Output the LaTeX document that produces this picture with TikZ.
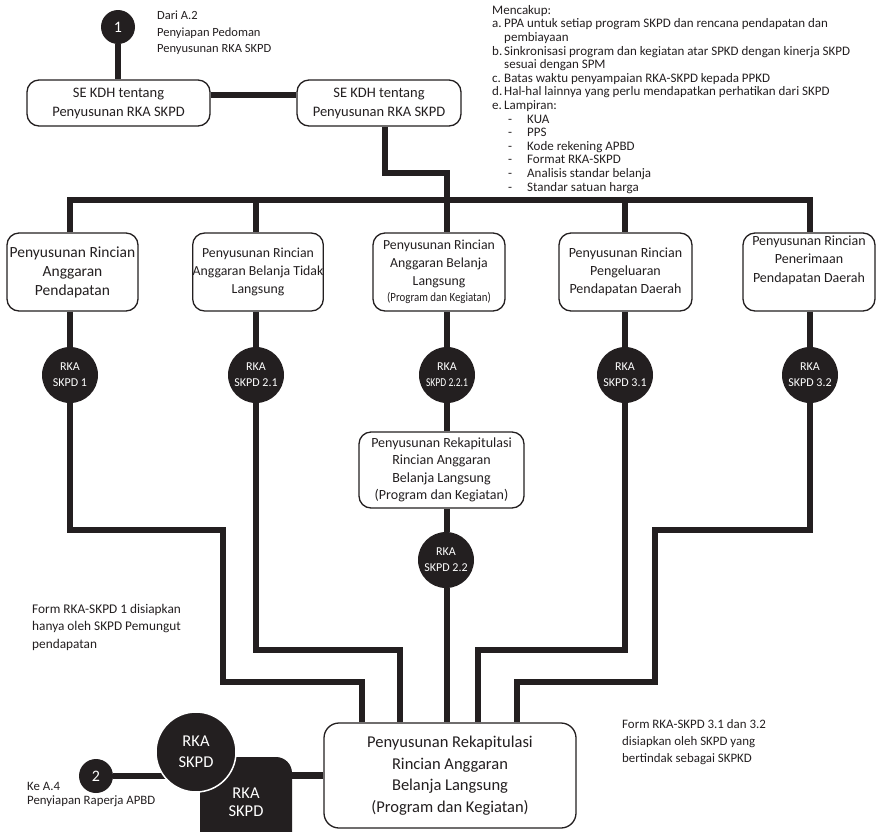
\documentclass[tikz,border=0pt]{standalone}
\usepackage{fontspec}
\setmainfont{Carlito}
\usetikzlibrary{backgrounds}
\definecolor{ink}{HTML}{231F20}
\newcommand{\lett}[1]{\makebox[12pt][l]{#1}}
\newcommand{\dashitem}[1]{\hspace*{16pt}\makebox[19pt][l]{-}#1}
\begin{document}
\begin{tikzpicture}[x=1pt,y=-1pt,
  conn/.style={draw=ink,line width=6.5pt,line join=miter},
  box/.style={draw=ink,line width=1.3pt,rounded corners=12pt,fill=white,
    align=center,text=ink,inner sep=0pt},
  dot/.style={circle,fill=ink,text=white,align=center,inner sep=0pt,
    minimum size=56pt,font=\fontsize{12}{16}\selectfont},
  numdot/.style={circle,fill=ink,text=white,inner sep=0pt,
    minimum size=34pt,font=\fontsize{16}{16}\selectfont},
  note/.style={align=left,text=ink,inner sep=0pt,anchor=north west},
]
\useasboundingbox (0,0) rectangle (876,831);

% --- top: start point and the two circular letters
\node[numdot] (c1) at (118,27) {1};
\node[note,font=\fontsize{12.5}{16.5}\selectfont] (dari) at (157,11)
  {Dari A.2\\Penyiapan Pedoman\\Penyusunan RKA SKPD};
\node[box,minimum width=183pt,minimum height=46pt,font=\fontsize{14.5}{19}\selectfont]
  (se1) at (118.5,103) {SE KDH tentang\\Penyusunan RKA SKPD};
\node[box,minimum width=164pt,minimum height=46pt,font=\fontsize{14.5}{19}\selectfont]
  (se2) at (379,103) {SE KDH tentang\\Penyusunan RKA SKPD};

\node[note,font=\fontsize{13}{13.6}\selectfont] (isi) at (492,5)
  {Mencakup:\\
   \lett{a.}PPA untuk setiap program SKPD dan rencana pendapatan dan\\
   \lett{}pembiayaan\\
   \lett{b.}Sinkronisasi program dan kegiatan atar SPKD dengan kinerja SKPD\\
   \lett{}sesuai dengan SPM\\
   \lett{c.}Batas waktu penyampaian RKA-SKPD kepada PPKD\\
   \lett{d.}Hal-hal lainnya yang perlu mendapatkan perhatikan dari SKPD\\
   \lett{e.}Lampiran:\\
   \dashitem{KUA}\\
   \dashitem{PPS}\\
   \dashitem{Kode rekening APBD}\\
   \dashitem{Format RKA-SKPD}\\
   \dashitem{Analisis standar belanja}\\
   \dashitem{Standar satuan harga}};

% --- row of the five detail boxes
\node[box,minimum width=131pt,minimum height=78pt,font=\fontsize{15.5}{19}\selectfont]
  (b1) at (72.5,272) {Penyusunan Rincian\\Anggaran\\Pendapatan};
\node[box,minimum width=130pt,minimum height=78pt,font=\fontsize{13.8}{18}\selectfont]
  (b2) at (258,272) {Penyusunan Rincian\\Anggaran Belanja Tidak\\Langsung};
\node[box,minimum width=132pt,minimum height=78pt,font=\fontsize{13.8}{18}\selectfont]
  (b3) at (439,272) {Penyusunan Rincian\\Anggaran Belanja\\Langsung\\[-2pt]
  {\fontsize{12.5}{13}\selectfont\scalebox{0.87}[1]{(Program dan Kegiatan)}}};
\node[box,minimum width=133pt,minimum height=78pt,font=\fontsize{14}{18}\selectfont]
  (b4) at (625.5,272) {Penyusunan Rincian\\Pengeluaran\\Pendapatan Daerah};
\node[box,minimum width=132pt,minimum height=78pt,font=\fontsize{14}{18.5}\selectfont]
  (b5) at (809,272) {Penyusunan Rincian\\Penerimaan\\Pendapatan Daerah\\[8pt]};

% --- RKA form circles
\node[dot] (r1) at (70,375) {RKA\\SKPD 1};
\node[dot] (r2) at (256,375) {RKA\\SKPD 2.1};
\node[dot] (r3) at (447,375) {RKA\\\scalebox{0.8}[1]{SKPD 2.2.1}};
\node[dot] (r4) at (625,375) {RKA\\SKPD 3.1};
\node[dot] (r5) at (810,375) {RKA\\SKPD 3.2};

\node[box,minimum width=165pt,minimum height=76pt,font=\fontsize{14}{17.5}\selectfont]
  (m) at (441.5,470) {Penyusunan Rekapitulasi\\Rincian Anggaran\\Belanja Langsung\\(Program dan Kegiatan)};
\node[dot] (r22) at (446,560) {RKA\\SKPD 2.2};

% --- final recap box
\node[box,rounded corners=15pt,minimum width=252pt,minimum height=105pt,
  font=\fontsize{16.5}{21.5}\selectfont]
  (fin) at (450,775.5) {Penyusunan Rekapitulasi\\Rincian Anggaran\\Belanja Langsung\\(Program dan Kegiatan)};

% --- notes
\node[note,font=\fontsize{13.3}{17.5}\selectfont] (n1) at (32,604)
  {Form RKA-SKPD 1 disiapkan\\hanya oleh SKPD Pemungut\\pendapatan};
\node[note,font=\fontsize{12.9}{17}\selectfont] (n2) at (622,719)
  {Form RKA-SKPD 3.1 dan 3.2\\disiapkan oleh SKPD yang\\bertindak sebagai SKPKD};
\node[note,font=\fontsize{12.8}{14.5}\selectfont] (n3) at (27,782)
  {Ke A.4\\Penyiapan Raperja APBD};

% --- output: RKA SKPD documents and end point
\node[numdot] (c2) at (96,776) {2};
\node[rectangle,rounded corners=16pt,fill=ink,text=white,minimum width=92pt,
  minimum height=92pt,inner sep=0pt,align=center,font=\fontsize{16.5}{20}\selectfont]
  (rk2) at (246,803) {\raisebox{6pt}{\begin{tabular}{@{}c@{}}RKA\\[-2pt]SKPD\end{tabular}}};
\node[circle,fill=ink,draw=white,line width=1.5pt,text=white,minimum size=80pt,
  inner sep=0pt,align=center,font=\fontsize{16.5}{21}\selectfont]
  (rk1) at (196,752) {RKA\\SKPD};

% --- connectors
\coordinate (bus) at (0,200);
\coordinate (jog) at (447,173);
\coordinate (h1) at (223,530);
\coordinate (h2) at (362,682);
\coordinate (h3) at (400,650);
\coordinate (h4) at (478,650);
\coordinate (h5) at (655,530);
\coordinate (h6) at (517,682);

\draw[conn] (c1.south) -- (se1.north -| c1);
\draw[conn] ([yshift=8pt]se1.east) -- ([yshift=8pt]se2.west);
\draw[conn] ([xshift=6pt]se2.south) |- (jog) -- (r3 |- b3.north);
\draw[conn] (r1 |- b1.north) -- (r1 |- bus) -- (r5 |- bus) -- (r5 |- b5.north);
\draw[conn] (r2 |- bus) -- (r2 |- b2.north);
\draw[conn] (r4 |- bus) -- (r4 |- b4.north);

\draw[conn] (r1 |- b1.south) -- (r1.north);
\draw[conn] (r2 |- b2.south) -- (r2.north);
\draw[conn] (r3 |- b3.south) -- (r3.north);
\draw[conn] (r4 |- b4.south) -- (r4.north);
\draw[conn] (r5 |- b5.south) -- (r5.north);

\draw[conn] (r3.south) -- (r3 |- m.north);
\draw[conn] (r3 |- m.south) -- (r3 |- r22.north);
\draw[conn] (r3 |- r22.south) -- (r3 |- fin.north);

\draw[conn] (r1.south) |- (h1) |- (h2) -- (h2 |- fin.north);
\draw[conn] (r2.south) |- (h3) -- (h3 |- fin.north);
\draw[conn] (r4.south) |- (h4) -- (h4 |- fin.north);
\draw[conn] (r5.south) |- (h5) |- (h6) -- (h6 |- fin.north);

\draw[conn] (fin.west) -- (fin.west -| rk2.east);
\begin{scope}[on background layer]
  \draw[conn] (c2.east) -- (c2.east -| rk1.center);
\end{scope}
\end{tikzpicture}
\end{document}
